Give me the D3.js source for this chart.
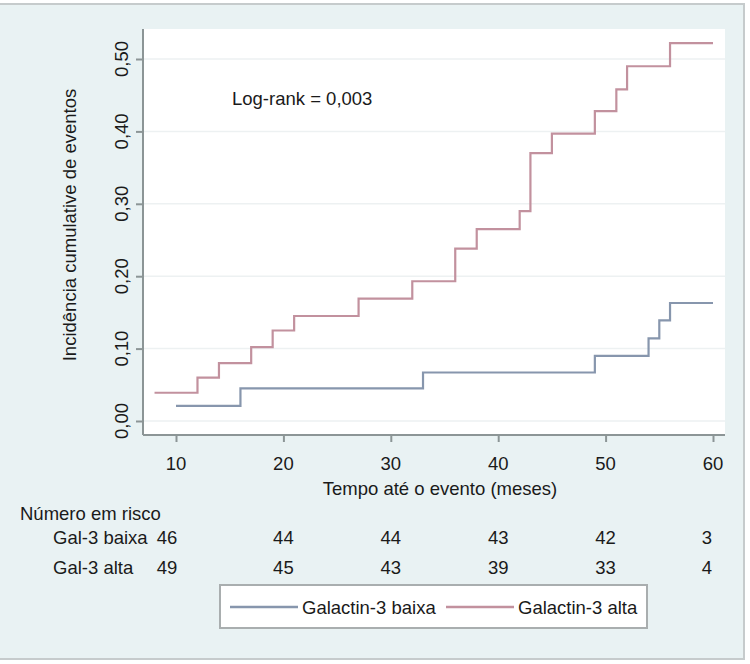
<!DOCTYPE html>
<html lang="pt">
<head>
<meta charset="UTF-8">
<title>Incidência cumulative de eventos</title>
<script src="https://d3js.org/d3.v7.min.js"></script>
<style>
  html, body { margin: 0; padding: 0; background: #fff; }
  text { font-family: "Liberation Sans", Arial, sans-serif; fill: #1a1a1a; }
</style>
</head>
<body>
<svg id="chart" width="750" height="664"></svg>
<script>
// step curves (time in months, cumulative incidence)
var baixaTime = [10, 16, 33, 49, 54, 55, 56, 60]
var baixaInc  = [0.021, 0.045, 0.067, 0.090, 0.114, 0.139, 0.163, 0.163]

var altaTime = [8, 12, 14, 17, 19, 21, 27, 32, 36, 38, 42, 43, 45, 49, 51, 52, 56, 60]
var altaInc  = [0.039, 0.060, 0.080, 0.102, 0.125, 0.145, 0.169, 0.193, 0.238, 0.265, 0.290, 0.370, 0.397, 0.428, 0.458, 0.490, 0.522, 0.522]

var xTicks = [10, 20, 30, 40, 50, 60]
var yTicks = [0, 0.1, 0.2, 0.3, 0.4, 0.5]

var riskTimes = [10, 20, 30, 40, 50, 60]
var riskBaixa = [46, 44, 44, 43, 42, 3]
var riskAlta  = [49, 45, 43, 39, 33, 4]

var seriesNames = ['Galactin-3 baixa', 'Galactin-3 alta']
var rowNames = ['Gal-3 baixa', 'Gal-3 alta']

var blue = '#8796ad'
var red = '#c2919e'

// plot region
var plot = { left: 143, right: 725, top: 29, bottom: 435 }
var fs = 18.5

var svg = d3.select('#chart')

// outer panel
svg.append('rect')
  .attr('x', -2).attr('y', 4).attr('width', 746).attr('height', 655)
  .attr('fill', '#e9f2f3')
  .attr('stroke', '#c6cbcc')
  .attr('stroke-width', 2)

svg.append('rect')
  .attr('x', plot.left).attr('y', plot.top)
  .attr('width', plot.right - plot.left).attr('height', plot.bottom - plot.top)
  .attr('fill', '#fff')

var x = d3.scaleLinear().domain([10, 60]).range([176, 713])
var y = d3.scaleLinear().domain([0, 0.5]).range([421, 59])

// gridlines
svg.append('g')
  .selectAll('line')
  .data(yTicks)
  .join('line')
  .attr('x1', plot.left).attr('x2', plot.right)
  .attr('y1', d => y(d)).attr('y2', d => y(d))
  .attr('stroke', '#edf1f2')
  .attr('stroke-width', 1.5)

var fmt = d => d.toFixed(2).replace('.', ',')

// y axis
var yAxis = svg.append('g')
  .attr('transform', `translate(${plot.left},0)`)
  .call(d3.axisLeft(y).tickValues(yTicks).tickSize(7).tickFormat(''))
yAxis.select('.domain').attr('d', `M0,${plot.top}V${plot.bottom}`)
yAxis.selectAll('path, line').attr('stroke', '#8c9596').attr('stroke-width', 2)

svg.append('g')
  .selectAll('text')
  .data(yTicks)
  .join('text')
  .attr('transform', d => `translate(128,${y(d)}) rotate(-90)`)
  .attr('text-anchor', 'middle')
  .attr('font-size', fs)
  .text(fmt)

// x axis
var xAxis = svg.append('g')
  .attr('transform', `translate(0,${plot.bottom})`)
  .call(d3.axisBottom(x).tickValues(xTicks).tickSize(7).tickFormat(''))
xAxis.select('.domain').attr('d', `M${plot.left},0H${plot.right}`)
xAxis.selectAll('path, line').attr('stroke', '#8c9596').attr('stroke-width', 2)

svg.append('g')
  .selectAll('text')
  .data(xTicks)
  .join('text')
  .attr('x', d => x(d))
  .attr('y', 470)
  .attr('text-anchor', 'middle')
  .attr('font-size', fs)
  .text(d => d)

// axis titles
svg.append('text')
  .attr('transform', `translate(76,225) rotate(-90)`)
  .attr('text-anchor', 'middle')
  .attr('font-size', fs)
  .text('Incidência cumulative de eventos')

svg.append('text')
  .attr('x', 440).attr('y', 495)
  .attr('text-anchor', 'middle')
  .attr('font-size', fs)
  .text('Tempo até o evento (meses)')

// curves
var line = d3.line()
  .x(d => x(d[0]))
  .y(d => y(d[1]))
  .curve(d3.curveStepAfter)

svg.append('path')
  .datum(d3.zip(baixaTime, baixaInc))
  .attr('d', line)
  .attr('fill', 'none')
  .attr('stroke', blue)
  .attr('stroke-width', 2.2)

svg.append('path')
  .datum(d3.zip(altaTime, altaInc))
  .attr('d', line)
  .attr('fill', 'none')
  .attr('stroke', red)
  .attr('stroke-width', 2.2)

svg.append('text')
  .attr('x', 232).attr('y', 105)
  .attr('font-size', fs)
  .text('Log-rank = 0,003')

// number at risk table
svg.append('text')
  .attr('x', 20).attr('y', 520)
  .attr('font-size', fs)
  .text('Número em risco')

var rows = [riskBaixa, riskAlta]
var rowY = [544, 574]
// first and last columns sit a little inside the tick in the original
var colShift = [-9, 0, 0, 0, 0, -6]

rows.forEach((vals, i) => {
  svg.append('text')
    .attr('x', 53).attr('y', rowY[i])
    .attr('font-size', fs)
    .text(rowNames[i])

  svg.append('g')
    .selectAll('text')
    .data(vals)
    .join('text')
    .attr('x', (d, j) => x(riskTimes[j]) + colShift[j])
    .attr('y', rowY[i])
    .attr('text-anchor', 'middle')
    .attr('font-size', fs)
    .text(d => d)
})

// legend
var legend = svg.append('g')
legend.append('rect')
  .attr('x', 220).attr('y', 585).attr('width', 427).attr('height', 43)
  .attr('fill', '#fff')
  .attr('stroke', '#a9aeaf')
  .attr('stroke-width', 2)

var legendX = [230, 446]
var colors = [blue, red]
seriesNames.forEach((name, i) => {
  legend.append('line')
    .attr('x1', legendX[i]).attr('x2', legendX[i] + 68)
    .attr('y1', 607).attr('y2', 607)
    .attr('stroke', colors[i])
    .attr('stroke-width', 2.5)
  legend.append('text')
    .attr('x', legendX[i] + 72).attr('y', 614)
    .attr('font-size', fs)
    .text(name)
})
</script>
</body>
</html>
